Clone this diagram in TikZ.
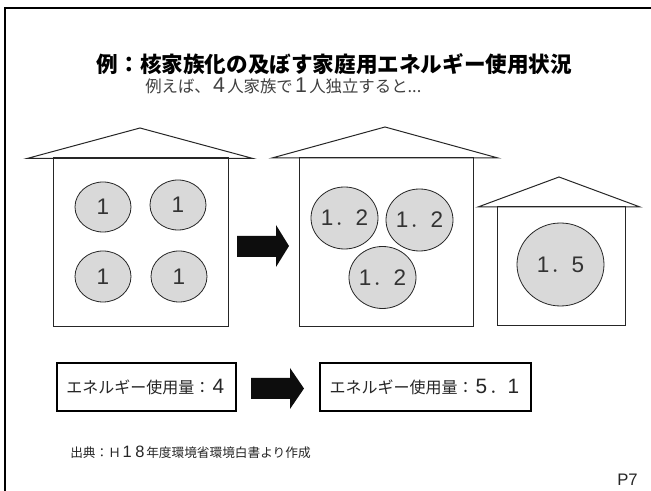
\documentclass[tikz,border=0pt]{standalone}
\usepackage{fontspec}
\setmainfont{Noto Sans CJK JP}
\newfontfamily\latinf{Liberation Sans}
\newfontfamily\digitf[Scale=1.3]{Liberation Sans}
\usetikzlibrary{shapes.geometric}
\newcommand{\fw}[1]{\makebox[1em][c]{\digitf #1}}
\tikzset{
 x=0.75pt,y=-0.75pt,
 wall/.style={draw=black!85,line width=0.75pt,fill=white},
 person/.style={ellipse,draw=black!85,line width=0.6pt,fill=black!15,inner sep=0pt,font=\fontsize{13}{13}\selectfont,text=black!80},
 energy/.style={draw=black,line width=1.8pt,fill=white,inner sep=0pt,font=\fontsize{12}{13}\selectfont,text=black!85},
 bigarrow/.style={fill=black!95,draw=none}
}
\newcommand{\pers}[6]{\node[person,minimum width=#4*0.75pt,minimum height=#5*0.75pt] (#1) at (#2,#3) {\makebox[0pt][c]{#6}};}
\begin{document}
\begin{tikzpicture}
\useasboundingbox (0,0) rectangle (651,491);
\fill[white] (0,0) rectangle (651,491);
\coordinate (ftl) at (5,8); \coordinate (ftr) at (651,8); \coordinate (fbl) at (5,491);
\draw[line width=2.2pt] (fbl) -- (ftl) -- (ftr);
\node[anchor=center,font=\bfseries\fontsize{16.2}{18}\selectfont] (title) at (334.5,64) {例：核家族化の及ぼす家庭用エネルギー使用状況};
\node[anchor=west,font=\fontsize{12.3}{13}\selectfont,text=black!75,inner sep=0pt] (sub) at (145,86) {例えば、\fw{4}人家族で\fw{1}人独立すると...};
% houses
\draw[wall] (53,158) rectangle (228,327);
\draw[line width=0.75pt,black!85] (27,158.5) -- (140,128) -- (253,158.5) -- cycle;
\draw[wall] (299,158) rectangle (473,327);
\draw[line width=0.75pt,black!85] (272,158) -- (385,127) -- (498,158) -- cycle;
\draw[wall] (497,207) rectangle (625,326);
\draw[line width=0.75pt,black!85] (478,207) -- (559,177) -- (640,207) -- cycle;
% people
\pers{a}{103}{207}{56}{50}{\fw{1}}
\pers{b}{178}{205}{56}{50}{\fw{1}}
\pers{c}{103}{276.5}{56}{51}{\fw{1}}
\pers{d}{179}{276.5}{56}{51}{\fw{1}}
\pers{e}{344.5}{218}{67}{62}{\fw{1}．\fw{2}}
\pers{f}{419.5}{220}{67}{62}{\fw{1}．\fw{2}}
\pers{g}{382.5}{277.5}{67}{62}{\fw{1}．\fw{2}}
\pers{h}{560.5}{264.5}{87}{83}{\fw{1}．\fw{5}}
% arrows
\fill[bigarrow] (237,236) -- (276,236) -- (276,225) -- (289,246) -- (276,267) -- (276,257) -- (237,257) -- cycle;
\node[energy,minimum width=134pt,minimum height=36pt] (e1) at (146.5,387) {エネルギー使用量：\fw{4}};
\node[energy,minimum width=158pt,minimum height=36pt] (e2) at (425.5,387) {エネルギー使用量：\fw{5}．\fw{1}};
\fill[bigarrow] (251,378) -- (290,378) -- (290,368) -- (304,388.5) -- (290,409) -- (290,399) -- (251,399) -- cycle;
\node[anchor=west,inner sep=0pt,font=\fontsize{9.5}{10}\selectfont,text=black!85] (src) at (70,452) {出典：Ｈ\fw{1}\fw{8}年度環境省環境白書より作成};
\node[anchor=east,inner sep=0pt,font=\latinf\fontsize{12.5}{13}\selectfont,text=black!85] (pg) at (638,480) {P7};
\end{tikzpicture}
\end{document}
